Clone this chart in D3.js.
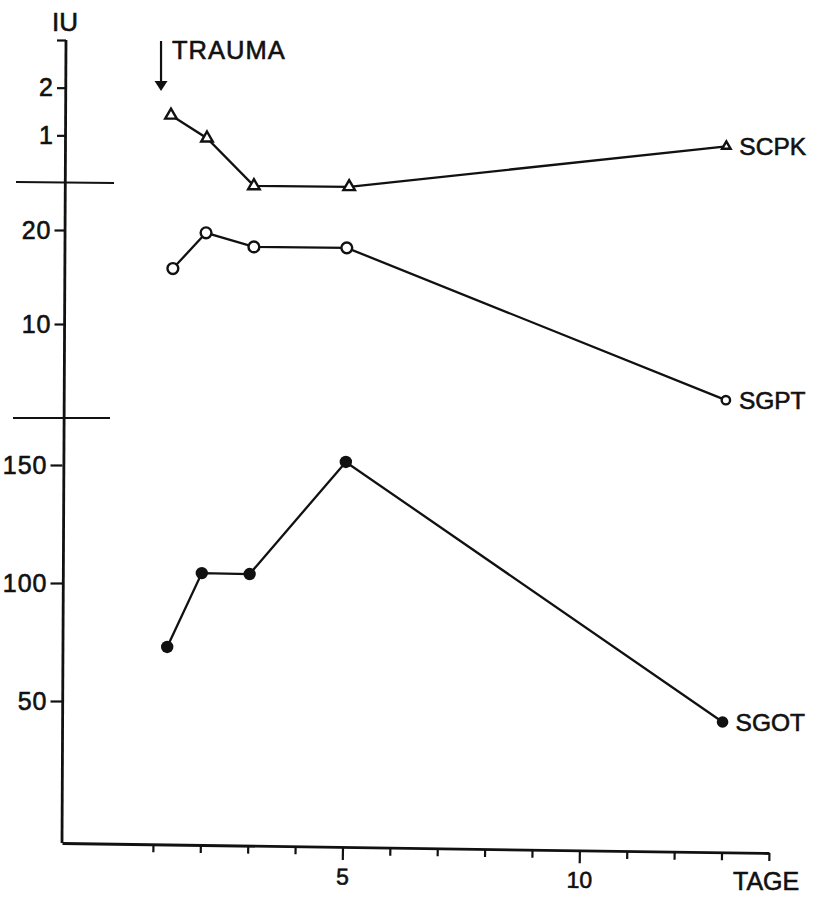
<!DOCTYPE html>
<html>
<head>
<meta charset="utf-8">
<script src="https://cdn.jsdelivr.net/npm/d3@7"></script>
<style>
    body { margin: 0; background: #fff; }
    svg text { font-family: "Liberation Sans", Arial, sans-serif; fill: #111; stroke: #111; stroke-width: 0.6px; }
</style>
</head>
<body>
<div id="chart"></div>
<script>
// values (days after trauma / IU)
var scpkDays = [1.38, 2.14, 3.13, 5.14, 13.1];
var scpkValues = [1.42, 0.94, -0.06, -0.08, 0.77];
var sgptDays = [1.42, 2.12, 3.13, 5.09, 13.09];
var sgptValues = [15.9, 19.7, 18.2, 18.1, 1.9];
var sgotDays = [1.3, 2.03, 3.04, 5.07, 13.02];
var sgotValues = [72.9, 104.2, 103.8, 151.3, 41.1];

var dayTicks = [1, 2, 3, 4, 5, 6, 7, 8, 9, 10, 11, 12, 13, 14];
var dayLabels = [5, 10];
var scpkTicks = [1, 2, 3];
var scpkTickLabels = ["1", "2", ""];
var sgptTicks = [10, 20];
var sgotTicks = [50, 100, 150];
var traumaDay = 1.17;

window.onload = () => {
    var width = 813;
    var height = 900;
    var ink = "#111";

    var svg = d3.select("#chart")
        .append("svg")
        .attr("width", width)
        .attr("height", height);

    var x = d3.scaleLinear().domain([-0.92, 14]).range([62, 769]);
    var yTop = d3.scaleLinear().domain([0, 3]).range([183, 40]);
    var yMid = d3.scaleLinear().domain([0, 25]).range([418, 183]);
    var yBot = d3.scaleLinear().domain([50, 150]).range([701, 465]);

    var axisY = 843;

    // x axis, slightly tilted like the scan
    var xAxis = d3.axisBottom(x)
        .tickValues(dayTicks)
        .tickSize(8)
        .tickSizeOuter(0)
        .tickFormat(d => dayLabels.includes(d) ? d : "");

    var gx = svg.append("g")
        .attr("transform", "translate(0," + axisY + ") rotate(0.81,62,0)")
        .call(xAxis);
    gx.select(".domain").attr("stroke", ink).attr("stroke-width", 2.8);
    gx.selectAll(".tick line").attr("stroke", ink).attr("stroke-width", 2.2);
    gx.selectAll(".tick line").filter(d => dayLabels.includes(d)).attr("y2", 13);
    gx.selectAll(".tick text")
        .attr("y", 21)
        .attr("dy", "0.72em")
        .style("font-size", "23px");

    svg.append("text")
        .attr("x", 733)
        .attr("y", 890)
        .style("font-size", "25px")
        .text("TAGE");

    // continuous y axis line
    svg.append("path")
        .attr("d", "M66," + yTop(3) + "L62," + axisY)
        .attr("stroke", ink)
        .attr("stroke-width", 2.8)
        .attr("fill", "none");

    function panelAxis(scale, ticks, xPos, size, labels) {
        var ax = d3.axisLeft(scale).tickValues(ticks).tickSize(size).tickPadding(3);
        if (labels) ax.tickFormat((d, i) => labels[i]);
        var g = svg.append("g")
            .attr("transform", "translate(" + xPos + ",0)")
            .call(ax);
        g.select(".domain").remove();
        g.selectAll(".tick line").attr("stroke", ink).attr("stroke-width", 2.2);
        g.selectAll(".tick text")
            .attr("letter-spacing", 1)
            .style("font-size", "25px");
        return g;
    }

    panelAxis(yTop, scpkTicks, 66, 9, scpkTickLabels);
    panelAxis(yMid, sgptTicks, 64.5, 10);
    panelAxis(yBot, sgotTicks, 62.5, 12);

    // panel breaks
    svg.append("line")
        .attr("x1", 16).attr("y1", yTop(0) - 1)
        .attr("x2", 114).attr("y2", yTop(0))
        .attr("stroke", ink).attr("stroke-width", 2.2);
    svg.append("line")
        .attr("x1", 13).attr("y1", yMid(0))
        .attr("x2", 110).attr("y2", yMid(0))
        .attr("stroke", ink).attr("stroke-width", 2.2);

    svg.append("text")
        .attr("x", 52)
        .attr("y", 31)
        .style("font-size", "26px")
        .text("IU");

    // trauma marker
    var tx = x(traumaDay);
    svg.append("line")
        .attr("x1", tx).attr("y1", 41)
        .attr("x2", tx).attr("y2", 84)
        .attr("stroke", ink).attr("stroke-width", 2.2);
    svg.append("path")
        .attr("d", "M" + (tx - 6.5) + ",81L" + (tx + 6.5) + ",81L" + tx + ",91Z")
        .attr("fill", ink);
    svg.append("text")
        .attr("x", tx + 11)
        .attr("y", 59)
        .style("font-size", "25.5px")
        .attr("letter-spacing", 1)
        .text("TRAUMA");

    var line = d3.line().x(d => x(d.day)).y(d => d.y);

    function series(days, values, scale, name) {
        var pts = days.map((d, i) => ({ day: d, y: scale(values[i]) }));
        svg.append("path")
            .datum(pts)
            .attr("d", line)
            .attr("fill", "none")
            .attr("stroke", ink)
            .attr("stroke-width", 2.3);
        var last = pts[pts.length - 1];
        svg.append("text")
            .attr("x", x(last.day) + 13)
            .attr("y", last.y)
            .attr("dy", "0.36em")
            .style("font-size", "24.5px")
            .text(name);
        return pts;
    }

    var scpk = series(scpkDays, scpkValues, yTop, "SCPK");
    var sgpt = series(sgptDays, sgptValues, yMid, "SGPT");
    var sgot = series(sgotDays, sgotValues, yBot, "SGOT");

    svg.selectAll(".tri")
        .data(scpk)
        .enter()
        .append("path")
        .attr("class", "tri")
        .attr("transform", d => "translate(" + x(d.day) + "," + d.y + ")")
        .attr("d", (d, i) => d3.symbol(d3.symbolTriangle, i === scpk.length - 1 ? 32 : 58)())
        .attr("fill", "#fff")
        .attr("stroke", ink)
        .attr("stroke-width", 2.4);

    svg.selectAll(".open")
        .data(sgpt)
        .enter()
        .append("circle")
        .attr("class", "open")
        .attr("cx", d => x(d.day))
        .attr("cy", d => d.y)
        .attr("r", (d, i) => i === sgpt.length - 1 ? 4.2 : 5.4)
        .attr("fill", "#fff")
        .attr("stroke", ink)
        .attr("stroke-width", 2.4);

    svg.selectAll(".dot")
        .data(sgot)
        .enter()
        .append("circle")
        .attr("class", "dot")
        .attr("cx", d => x(d.day))
        .attr("cy", d => d.y)
        .attr("r", (d, i) => i === sgot.length - 1 ? 5.8 : 6.2)
        .attr("fill", ink);
}
</script>
</body>
</html>
